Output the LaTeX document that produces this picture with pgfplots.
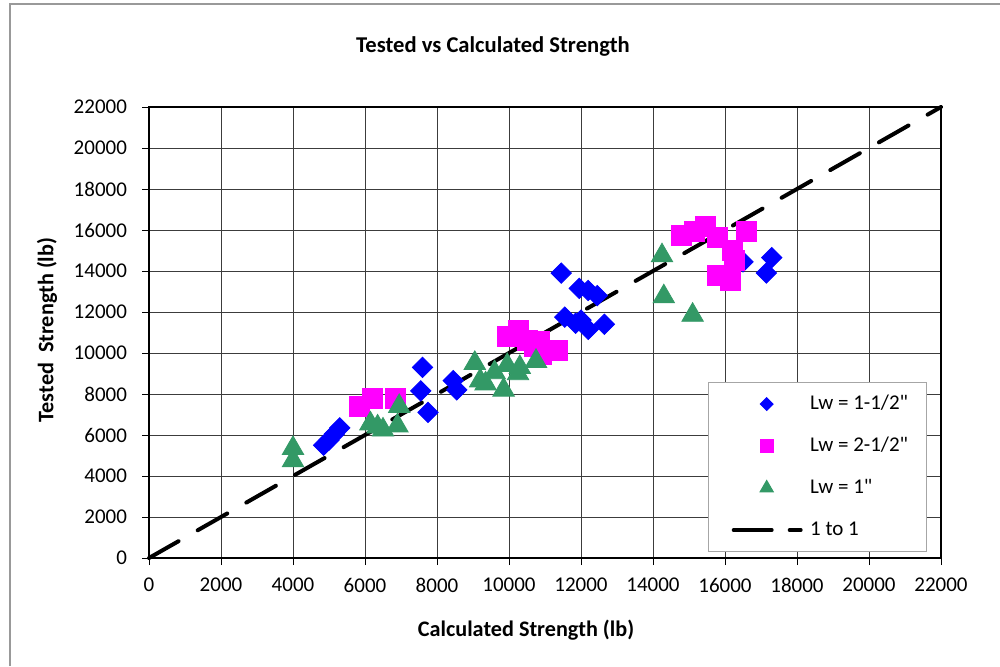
\documentclass[border=0pt]{standalone}
\usepackage{fontspec}
\setmainfont{Carlito}[Ligatures=TeXOff]
\usepackage{pgfplots}
\pgfplotsset{compat=1.18}
\definecolor{sgreen}{RGB}{51,153,102}
\definecolor{mag}{RGB}{255,0,255}
\definecolor{blu}{RGB}{0,0,255}
\definecolor{gridc}{RGB}{60,60,60}
\begin{document}
\begin{tikzpicture}
\useasboundingbox (0,0) rectangle (500pt,333pt);
\draw[gray!80, line width=0.6pt] (5pt,0pt) -- (5pt,331pt) -- (500pt,331pt);
\begin{axis}[
  at={(74.5pt,54pt)}, anchor=south west,
  scale only axis, width=396pt, height=225.5pt,
  xmin=0, xmax=22000, ymin=0, ymax=22000,
  xtick distance=2000, ytick distance=2000,
  scaled ticks=false,
  /pgf/number format/set thousands separator={},
  /pgf/number format/assume math mode=true,
  tick label style={font=\fontsize{10.5}{12}\selectfont},
  yticklabel style={xshift=-4pt},
  xticklabel style={yshift=-3pt},
  grid=major, grid style={gridc, line width=0.5pt},
  axis line style={black, line width=0.6pt},
  tick pos=left, tick align=outside, major tick length=3.5pt,
  tick style={black, line width=0.5pt},
  clip=false,
  legend style={at={(0.982,0.013)}, anchor=south east,
    draw=gray!70, line width=0.6pt, fill=white,
    font=\fontsize{10.5}{12}\selectfont,
    inner xsep=6pt, inner ysep=6pt, row sep=11.5pt,
    nodes={text height=7.5pt, text depth=2pt, inner ysep=0pt, inner xsep=3pt},
    /tikz/every odd column/.append style={column sep=0pt},
    /tikz/every even column/.append style={column sep=4pt}},
  legend cell align=left,
]
\addplot[only marks, mark=square*, color=blu, mark options={rotate=45, fill=blu, draw=blu}, mark size=3.6pt,
  legend image code/.code={\path[draw=none,fill=none] (0pt,0pt) -- (42pt,0pt);
    \path[draw=none] plot[mark=square*, mark options={rotate=45, fill=blu, draw=blu}, mark size=2.2pt] coordinates {(23.25pt,0pt)};}]
coordinates {
(4850,5500) (5000,5750) (5150,6050) (5300,6350)
(7600,9300) (7550,8150) (7750,7100) (8450,8650) (8550,8200)
(11450,13900) (11950,13150) (12200,13050) (12450,12800)
(11550,11750) (11850,11450) (12000,11600) (12200,11150) (12650,11400)
(16500,14450) (17150,13900) (17300,14650)
};
\addlegendentry{Lw = 1-1/2"}
\addplot[only marks, mark=square*, color=mag, mark options={fill=mag, draw=mag}, mark size=5pt,
  legend image code/.code={\path[draw=none,fill=none] (0pt,0pt) -- (42pt,0pt);
    \path[draw=none] plot[mark=square*, mark options={fill=mag, draw=mag}, mark size=3.2pt] coordinates {(23.25pt,0pt)};}]
coordinates {
(5850,7400) (6200,7800) (6850,7800)
(9950,10800) (10250,11100) (10500,10600) (10850,10550) (10700,10300) (10900,9950) (11350,10150)
(14800,15750) (15150,15950) (15450,16200) (15800,15650) (16600,15950)
(16200,15000) (16250,14500) (15800,13800) (16150,13550)
};
\addlegendentry{Lw = 2-1/2"}
\addplot[only marks, mark=triangle*, color=sgreen, mark options={fill=sgreen, draw=sgreen}, mark size=6.2pt,
  legend image code/.code={\path[draw=none,fill=none] (0pt,0pt) -- (42pt,0pt);
    \path[draw=none] plot[mark=triangle*, mark options={fill=sgreen, draw=sgreen}, mark size=3.7pt] coordinates {(23.25pt,0pt)};}]
coordinates {
(4000,5350) (4000,4750)
(6150,6550) (6350,6400) (6500,6250) (6950,7400) (6900,6450)
(9050,9500) (9200,8650) (9350,8500) (9600,9050) (9850,8200) (9950,9400) (10250,9000) (10300,9300) (10750,9600)
(14250,14750) (14300,12750) (15100,11850)
};
\addlegendentry{Lw = 1"}
\addplot[black, line width=2pt, line cap=round, dash pattern=on 17pt off 11pt, no marks,
  legend image code/.code={\path[draw=none,fill=none] (0pt,0pt) -- (42pt,0pt);
    \draw[black, line width=2pt, line cap=round, dash pattern=on 19pt off 9pt] (6.75pt,0pt) -- (40.25pt,0pt);}]
coordinates {(0,0) (22000,22000)};
\addlegendentry{1 to 1}
\end{axis}
\node[font=\bfseries\fontsize{11.3}{13}\selectfont] at (246.5pt,310pt) {Tested vs Calculated Strength};
\node[font=\bfseries\fontsize{11.1}{13}\selectfont] at (263pt,18pt) {Calculated Strength (lb)};
\node[font=\bfseries\fontsize{11.1}{13}\selectfont, rotate=90] at (23.5pt,168pt) {Tested\ \ Strength (lb)};
\end{tikzpicture}
\end{document}
